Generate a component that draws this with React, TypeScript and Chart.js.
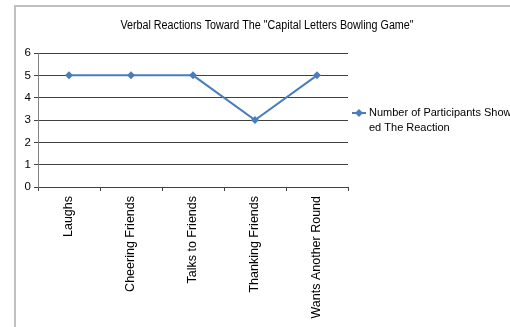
import React, { useEffect, useRef } from "react";
import { Chart, registerables } from "chart.js";

Chart.register(...registerables);

// Reaction categories and how many participants showed each one
const categories = [
  "Laughs",
  "Cheering Friends",
  "Talks to Friends",
  "Thanking Friends",
  "Wants Another Round",
];
const participants = [5, 5, 5, 3, 5];

// Series name, wrapped the way it appears in the legend
const seriesLabelLines = ["Number of Participants Show", "ed The Reaction"];
const chartTitle = 'Verbal Reactions Toward The "Capital Letters Bowling Game"';

const yMin = 0;
const yMax = 6;
const yStep = 1;

const FONT = "'Liberation Sans', Arial, sans-serif";
const LINE_COLOR = "#4a7ebb";

// Draws the frame, the title and the legend around the plot
const decorations = {
  id: "decorations",
  beforeDraw(chart: any) {
    const { ctx, width, height } = chart;
    ctx.save();
    ctx.fillStyle = "#ffffff";
    ctx.fillRect(0, 0, width, height);
    ctx.strokeStyle = "#c0c0c0";
    ctx.lineWidth = 2;
    ctx.beginPath();
    ctx.moveTo(15, height);
    ctx.lineTo(15, 6);
    ctx.lineTo(width, 6);
    ctx.stroke();
    ctx.restore();
  },
  afterDraw(chart: any) {
    const { ctx, chartArea } = chart;
    ctx.save();

    // title, in a slightly condensed face
    ctx.fillStyle = "#000000";
    ctx.font = `12.5px ${FONT}`;
    ctx.textAlign = "center";
    ctx.textBaseline = "alphabetic";
    ctx.save();
    ctx.translate(267, 28.5);
    ctx.scale(0.86, 1);
    ctx.fillText(chartTitle, 0, 0);
    ctx.restore();

    // legend
    const lx = chartArea.right + 4;
    const ly = 113;
    ctx.strokeStyle = LINE_COLOR;
    ctx.lineWidth = 2;
    ctx.beginPath();
    ctx.moveTo(lx, ly);
    ctx.lineTo(lx + 14, ly);
    ctx.stroke();
    ctx.fillStyle = LINE_COLOR;
    ctx.beginPath();
    ctx.moveTo(lx + 7, ly - 4);
    ctx.lineTo(lx + 11, ly);
    ctx.lineTo(lx + 7, ly + 4);
    ctx.lineTo(lx + 3, ly);
    ctx.closePath();
    ctx.fill();

    ctx.fillStyle = "#000000";
    ctx.font = `11px ${FONT}`;
    ctx.textAlign = "left";
    ctx.textBaseline = "middle";
    seriesLabelLines.forEach((line, i) => {
      ctx.fillText(line, lx + 17, ly + i * 15);
    });
    ctx.restore();
  },
};

export default function App() {
  const canvasRef = useRef<HTMLCanvasElement>(null);

  useEffect(() => {
    const canvas = canvasRef.current;
    if (!canvas) return;
    const chart = new Chart(canvas, {
      type: "line",
      data: {
        labels: categories,
        datasets: [
          {
            label: seriesLabelLines.join(""),
            data: participants,
            borderColor: LINE_COLOR,
            backgroundColor: LINE_COLOR,
            borderWidth: 2,
            pointStyle: "rectRot",
            pointRadius: 4,
            pointBorderWidth: 0,
            tension: 0,
          },
        ],
      },
      options: {
        responsive: false,
        animation: false,
        devicePixelRatio: 1,
        layout: { padding: { top: 53, right: 162, bottom: 0, left: 0 } },
        plugins: {
          legend: { display: false },
          title: { display: false },
          tooltip: { enabled: false },
        },
        scales: {
          x: {
            type: "category",
            offset: true,
            afterFit(scale: any) {
              scale.height = 140;
            },
            grid: {
              offset: true,
              drawOnChartArea: false,
              drawTicks: true,
              tickLength: 4,
              color: "#404040",
            },
            border: { display: true, color: "#404040", width: 1 },
            ticks: {
              minRotation: 90,
              maxRotation: 90,
              autoSkip: false,
              padding: 5,
              color: "#000000",
              font: { family: FONT, size: 12.5 },
            },
          },
          y: {
            min: yMin,
            max: yMax,
            afterFit(scale: any) {
              scale.width = 38;
            },
            grid: {
              color: "#404040",
              drawTicks: true,
              tickLength: 4,
            },
            border: { display: true, color: "#808080", width: 1 },
            ticks: {
              stepSize: yStep,
              padding: 3,
              color: "#000000",
              font: { family: FONT, size: 11.5 },
            },
          },
        },
      },
      plugins: [decorations],
    });
    return () => chart.destroy();
  }, []);

  return (
    <div
      style={{
        position: "fixed",
        left: 0,
        top: 0,
        width: 510,
        height: 327,
        background: "#ffffff",
      }}
    >
      <canvas
        ref={canvasRef}
        width={510}
        height={327}
        style={{ display: "block", width: 510, height: 327 }}
      />
    </div>
  );
}
